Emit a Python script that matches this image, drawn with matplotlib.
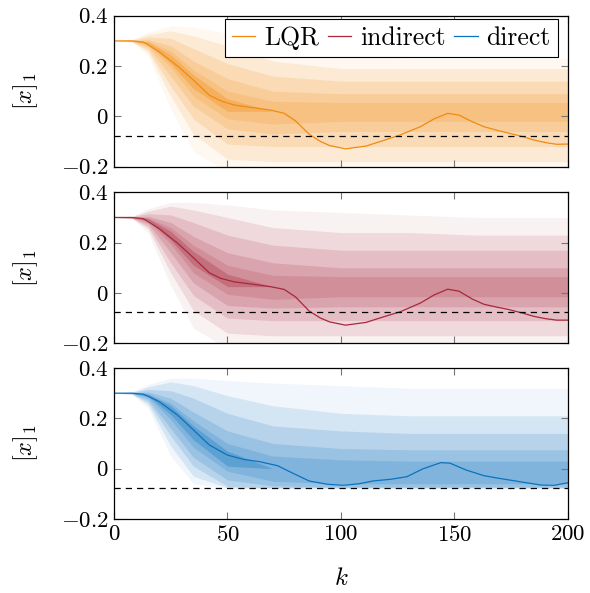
import matplotlib
matplotlib.use("Agg")
from matplotlib import pyplot as plt

plt.rcParams["font.family"] = "serif"
plt.rcParams["font.serif"] = ["cmr10", "DejaVu Serif"]
plt.rcParams["mathtext.fontset"] = "cm"
plt.rcParams["axes.formatter.use_mathtext"] = True

# --- data ------------------------------------------------------------------
series_names = ["LQR", "indirect", "direct"]
series_colors = ["#F28A0F", "#A8283C", "#0B72BE"]

x_ticks = [0, 50, 100, 150, 200]
x_tick_labels = ["$0$", "$50$", "$100$", "$150$", "$200$"]
y_ticks = [-0.2, 0.0, 0.2, 0.4]
y_tick_labels = ["$-0.2$", "$0$", "$0.2$", "$0.4$"]
constraint = -0.077

# highlighted trajectory per controller
k_lqr = [0, 8, 13, 20, 28, 35, 42, 47, 53, 60, 69, 75, 80, 86, 91, 95, 102,
         111, 118, 126, 135, 141, 147, 152, 158, 163, 169, 174, 180, 185, 190,
         195, 200]
x_lqr = [0.30, 0.30, 0.295, 0.256, 0.200, 0.144, 0.084, 0.062, 0.045, 0.036,
         0.025, 0.012, -0.018, -0.071, -0.100, -0.116, -0.129, -0.118, -0.098,
         -0.074, -0.041, -0.010, 0.012, 0.005, -0.022, -0.041, -0.056, -0.067,
         -0.080, -0.094, -0.104, -0.111, -0.110]
k_ind = k_lqr
x_ind = [0.30, 0.30, 0.295, 0.255, 0.198, 0.140, 0.080, 0.058, 0.044, 0.036,
         0.025, 0.014, -0.016, -0.072, -0.100, -0.115, -0.128, -0.117, -0.097,
         -0.075, -0.040, -0.008, 0.015, 0.007, -0.025, -0.045, -0.057, -0.066,
         -0.080, -0.093, -0.102, -0.108, -0.108]
k_dir = [0, 8, 13, 20, 28, 35, 42, 50, 57, 64, 72, 79, 86, 94, 101, 108, 114,
         122, 129, 136, 144, 148, 155, 163, 170, 179, 188, 194, 200]
x_dir = [0.30, 0.30, 0.296, 0.266, 0.213, 0.154, 0.094, 0.054, 0.037, 0.028,
         0.012, -0.019, -0.049, -0.062, -0.066, -0.060, -0.049, -0.042, -0.032,
         -0.001, 0.024, 0.022, -0.005, -0.028, -0.039, -0.052, -0.065, -0.066,
         -0.056]

# spread of the sampled trajectories: nested envelopes, widest first
k_band = [0, 8, 15, 25, 35, 50, 70, 100, 130, 160, 200]

lqr_hi_1 = [0.30, 0.305, 0.335, 0.36, 0.355, 0.33, 0.28, 0.24, 0.23, 0.23, 0.23]
lqr_lo_1 = [0.30, 0.295, 0.24, 0.03, -0.14, -0.22, -0.22, -0.22, -0.22, -0.22, -0.22]
lqr_hi_2 = [0.30, 0.304, 0.325, 0.34, 0.32, 0.28, 0.22, 0.19, 0.19, 0.19, 0.19]
lqr_lo_2 = [0.30, 0.296, 0.255, 0.08, -0.07, -0.17, -0.18, -0.18, -0.18, -0.18, -0.18]
lqr_hi_3 = [0.30, 0.303, 0.315, 0.31, 0.27, 0.21, 0.16, 0.14, 0.14, 0.14, 0.14]
lqr_lo_3 = [0.30, 0.297, 0.265, 0.12, -0.01, -0.11, -0.12, -0.12, -0.12, -0.12, -0.12]
lqr_hi_4 = [0.30, 0.302, 0.305, 0.28, 0.22, 0.15, 0.10, 0.09, 0.09, 0.09, 0.09]
lqr_lo_4 = [0.30, 0.298, 0.275, 0.16, 0.04, -0.05, -0.07, -0.06, -0.06, -0.06, -0.06]
lqr_hi_5 = [0.30, 0.301, 0.298, 0.26, 0.185, 0.10, 0.06, 0.055, 0.055, 0.055, 0.055]
lqr_lo_5 = [0.30, 0.299, 0.285, 0.195, 0.08, -0.01, -0.03, -0.02, -0.02, -0.02, -0.02]
lqr_hi_6 = [0.30, 0.3005, 0.296, 0.245, 0.165, 0.07, 0.02, 0.02, 0.02, 0.02, 0.02]
lqr_lo_6 = [0.30, 0.2995, 0.289, 0.21, 0.11, 0.02, 0.02, 0.02, 0.02, 0.02, 0.02]

ind_hi_1 = [0.30, 0.305, 0.335, 0.36, 0.36, 0.35, 0.33, 0.32, 0.31, 0.30, 0.30]
ind_lo_1 = [0.30, 0.295, 0.24, 0.03, -0.14, -0.22, -0.22, -0.22, -0.22, -0.22, -0.22]
ind_hi_2 = [0.30, 0.304, 0.325, 0.345, 0.33, 0.30, 0.26, 0.24, 0.24, 0.23, 0.23]
ind_lo_2 = [0.30, 0.296, 0.255, 0.08, -0.07, -0.16, -0.17, -0.17, -0.17, -0.17, -0.17]
ind_hi_3 = [0.30, 0.303, 0.315, 0.31, 0.28, 0.23, 0.19, 0.17, 0.17, 0.17, 0.17]
ind_lo_3 = [0.30, 0.297, 0.265, 0.12, -0.01, -0.10, -0.11, -0.11, -0.11, -0.11, -0.11]
ind_hi_4 = [0.30, 0.302, 0.305, 0.28, 0.225, 0.16, 0.12, 0.10, 0.10, 0.10, 0.10]
ind_lo_4 = [0.30, 0.298, 0.275, 0.16, 0.04, -0.05, -0.06, -0.055, -0.055, -0.055, -0.055]
ind_hi_5 = [0.30, 0.301, 0.298, 0.26, 0.19, 0.11, 0.07, 0.065, 0.065, 0.065, 0.065]
ind_lo_5 = [0.30, 0.299, 0.285, 0.195, 0.08, -0.005, -0.025, -0.015, -0.015, -0.015, -0.015]
ind_hi_6 = [0.30, 0.3005, 0.296, 0.245, 0.165, 0.075, 0.025, 0.025, 0.025, 0.025, 0.025]
ind_lo_6 = [0.30, 0.2995, 0.289, 0.21, 0.11, 0.025, 0.025, 0.025, 0.025, 0.025, 0.025]

dir_hi_1 = [0.30, 0.305, 0.335, 0.36, 0.36, 0.35, 0.34, 0.33, 0.32, 0.32, 0.32]
dir_lo_1 = [0.30, 0.295, 0.24, 0.05, -0.06, -0.078, -0.078, -0.078, -0.078, -0.078, -0.078]
dir_hi_2 = [0.30, 0.304, 0.325, 0.345, 0.33, 0.29, 0.25, 0.22, 0.21, 0.21, 0.21]
dir_lo_2 = [0.30, 0.296, 0.255, 0.09, -0.03, -0.076, -0.077, -0.077, -0.077, -0.077, -0.077]
dir_hi_3 = [0.30, 0.303, 0.315, 0.31, 0.28, 0.22, 0.17, 0.15, 0.14, 0.14, 0.14]
dir_lo_3 = [0.30, 0.297, 0.265, 0.13, 0.01, -0.07, -0.076, -0.076, -0.076, -0.076, -0.076]
dir_hi_4 = [0.30, 0.302, 0.305, 0.28, 0.225, 0.15, 0.10, 0.08, 0.075, 0.075, 0.075]
dir_lo_4 = [0.30, 0.298, 0.275, 0.16, 0.045, -0.045, -0.068, -0.072, -0.072, -0.072, -0.072]
dir_hi_5 = [0.30, 0.301, 0.298, 0.26, 0.19, 0.10, 0.05, 0.035, 0.03, 0.03, 0.03]
dir_lo_5 = [0.30, 0.299, 0.285, 0.195, 0.085, -0.01, -0.05, -0.06, -0.06, -0.06, -0.06]
dir_hi_6 = [0.30, 0.3005, 0.296, 0.25, 0.17, 0.07, 0.0, 0.0, 0.0, 0.0, 0.0]
dir_lo_6 = [0.30, 0.2995, 0.289, 0.215, 0.115, 0.01, 0.0, 0.0, 0.0, 0.0, 0.0]

panels = [
    (k_lqr, x_lqr, [(lqr_lo_1, lqr_hi_1), (lqr_lo_2, lqr_hi_2), (lqr_lo_3, lqr_hi_3),
                    (lqr_lo_4, lqr_hi_4), (lqr_lo_5, lqr_hi_5), (lqr_lo_6, lqr_hi_6)]),
    (k_ind, x_ind, [(ind_lo_1, ind_hi_1), (ind_lo_2, ind_hi_2), (ind_lo_3, ind_hi_3),
                    (ind_lo_4, ind_hi_4), (ind_lo_5, ind_hi_5), (ind_lo_6, ind_hi_6)]),
    (k_dir, x_dir, [(dir_lo_1, dir_hi_1), (dir_lo_2, dir_hi_2), (dir_lo_3, dir_hi_3),
                    (dir_lo_4, dir_hi_4), (dir_lo_5, dir_hi_5), (dir_lo_6, dir_hi_6)]),
]
band_alphas = [0.06, 0.12, 0.15, 0.17, 0.17, 0.3]

# --- figure ------------------------------------------------------------------
fig = plt.figure(figsize=(5.9, 5.93), dpi=100)
left, width, height = 0.1932, 0.7695, 0.2546
bottoms = [0.7189, 0.4211, 0.1248]

handles = []
for i, (k, x, bands) in enumerate(panels):
    ax = fig.add_axes([left, bottoms[i], width, height])
    color = series_colors[i]
    for (lo, hi), a in zip(bands, band_alphas):
        ax.fill_between(k_band, lo, hi, color=color, alpha=a, linewidth=0)
    line, = ax.plot(k, x, color=color, linewidth=0.9, label=series_names[i])
    handles.append(line)
    ax.axhline(constraint, color="black", linewidth=0.9, dashes=(5, 4))

    ax.set_xlim(0, 200)
    ax.set_ylim(-0.2, 0.4)
    ax.set_xticks(x_ticks)
    ax.set_yticks(y_ticks)
    ax.set_yticklabels(y_tick_labels)
    if i == 2:
        ax.set_xticklabels(x_tick_labels)
        ax.set_xlabel("$k$", fontsize=18, labelpad=17)
    else:
        ax.set_xticklabels([])
    ax.tick_params(direction="in", length=5, width=0.8, color="#777777",
                   top=True, right=True, labelsize=16.5, pad=4)
    ax.set_ylabel("$[x]_1$", fontsize=17.5, labelpad=15)
    for s in ax.spines.values():
        s.set_linewidth(0.9)

    if i == 0:
        top_ax = ax

leg = top_ax.legend(handles=handles, loc="upper right", ncol=3, fontsize=18.5,
                    bbox_to_anchor=(0.978, 0.978), frameon=True, fancybox=False,
                    edgecolor="black", framealpha=1, handlelength=0.9,
                    handletextpad=0.35, columnspacing=0.35, borderpad=0.28,
                    borderaxespad=0.0)
leg.get_frame().set_linewidth(0.8)

plt.savefig("out.png", dpi=100)
